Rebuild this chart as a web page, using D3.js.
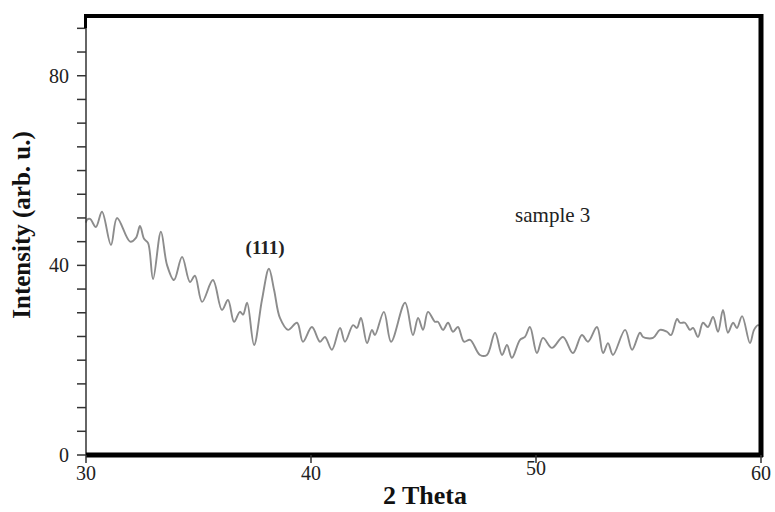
<!DOCTYPE html>
<html>
<head>
<meta charset="utf-8">
<script src="https://cdn.jsdelivr.net/npm/d3@7"></script>
<style>
  body { margin: 0; background: #fff; }
  text { font-family: "Liberation Serif", "Times New Roman", serif; }
</style>
</head>
<body>
<div class="chart"></div>
<script>
// 2 theta values (deg)
var theta = [30.0, 30.04, 30.18, 30.44, 30.71, 31.11, 31.38, 31.96, 32.22, 32.40, 32.58, 32.76, 32.98, 33.33, 33.60, 33.91,
  34.27, 34.62, 34.84, 35.16, 35.64, 36.04, 36.31, 36.58, 36.84, 36.98, 37.16, 37.47, 37.82, 38.13, 38.36, 38.62,
  38.98, 39.38, 39.64, 40.04, 40.40, 40.62, 40.93, 41.29, 41.51, 41.87, 42.04, 42.22, 42.49, 42.71, 42.84, 43.24,
  43.56, 44.18, 44.53, 44.76, 44.98, 45.20, 45.51, 45.64, 45.87, 46.09, 46.31, 46.53, 46.80, 47.07, 47.51, 47.82,
  48.18, 48.49, 48.71, 48.93, 49.29, 49.51, 49.73, 50.04, 50.31, 50.71, 51.20, 51.64, 52.04, 52.31, 52.71, 52.98,
  53.20, 53.42, 53.96, 54.27, 54.62, 54.76, 55.20, 55.51, 55.82, 56.00, 56.27, 56.40, 56.62, 56.84, 56.98, 57.20,
  57.42, 57.64, 57.87, 58.09, 58.31, 58.53, 58.76, 58.93, 59.16, 59.51, 59.69, 59.87, 60.0];
var intensity = [49.0, 49.6, 49.8, 48.1, 51.3, 44.3, 50.0, 45.0, 45.8, 48.3, 45.6, 44.7, 37.1, 47.1, 40.1, 36.9,
  41.8, 36.5, 37.8, 32.3, 36.9, 30.6, 32.7, 28.1, 30.2, 29.6, 32.1, 23.2, 32.7, 39.3, 34.8, 28.9,
  26.4, 27.9, 23.9, 27.0, 23.9, 24.9, 22.2, 26.8, 23.9, 27.4, 26.8, 28.9, 23.6, 26.4, 25.3, 30.2,
  23.9, 32.1, 25.3, 28.9, 26.4, 30.2, 28.1, 28.1, 26.4, 27.9, 26.0, 27.0, 23.9, 24.3, 21.1, 21.1,
  25.8, 21.1, 23.2, 20.5, 24.3, 24.9, 27.0, 21.5, 24.7, 22.6, 24.9, 21.5, 25.3, 23.9, 27.0, 21.5,
  23.6, 21.1, 26.4, 22.2, 25.8, 24.9, 24.7, 26.4, 26.0, 25.3, 28.7, 27.9, 27.9, 26.4, 26.8, 24.9,
  27.9, 27.0, 29.1, 26.0, 30.6, 25.8, 27.9, 26.8, 29.3, 23.6, 26.4, 27.4, 27.0];
var xTicks = [30, 40, 50, 60];
var yTicks = [0, 40, 80];
var yMinor = d3.range(0, 95, 5);

var data = theta.map(function(t, i) { return {x: t, y: intensity[i]}; });

var width = 775, height = 512;
var margin = { top: 16, right: 14, bottom: 57, left: 86 };
var plotW = width - margin.left - margin.right,
    plotH = height - margin.top - margin.bottom;

var x = d3.scaleLinear().domain([30, 60]).range([0, plotW]);
var y = d3.scaleLinear().domain([0, 92.6]).range([plotH, 0]);

var svg = d3.select(".chart").append("svg")
    .attr("width", width)
    .attr("height", height);

var g = svg.append("g")
    .attr("transform", "translate(" + margin.left + "," + margin.top + ")");

// data line
var line = d3.line()
    .x(function(d) { return x(d.x); })
    .y(function(d) { return y(d.y); })
    .curve(d3.curveCatmullRom.alpha(0.5));

g.append("path")
    .datum(data)
    .attr("fill", "none")
    .attr("stroke", "#8c8c8c")
    .attr("stroke-width", 1.9)
    .attr("d", line);

// left axis (thin) with ticks every 5
g.append("line")
    .attr("x1", 0).attr("x2", 0)
    .attr("y1", 0).attr("y2", plotH)
    .attr("stroke", "#333").attr("stroke-width", 1.5);

g.selectAll(".ytick")
    .data(yMinor)
    .enter().append("line")
    .attr("class", "ytick")
    .attr("x1", -9).attr("x2", 0)
    .attr("y1", function(d) { return y(d); })
    .attr("y2", function(d) { return y(d); })
    .attr("stroke", "#333").attr("stroke-width", 1.5);

g.selectAll(".ylabel")
    .data(yTicks)
    .enter().append("text")
    .attr("class", "ylabel")
    .attr("x", -17)
    .attr("y", function(d) { return y(d) + 7; })
    .attr("text-anchor", "end")
    .attr("font-size", 20)
    .attr("fill", "#222")
    .text(function(d) { return d; });

// thick frame: top, right, bottom + corner piece
g.append("line")
    .attr("x1", -2).attr("x2", plotW + 2)
    .attr("y1", 0).attr("y2", 0)
    .attr("stroke", "#000").attr("stroke-width", 4);
g.append("line")
    .attr("x1", -0.5).attr("x2", -0.5)
    .attr("y1", 0).attr("y2", 12)
    .attr("stroke", "#000").attr("stroke-width", 3);
g.append("line")
    .attr("x1", plotW).attr("x2", plotW)
    .attr("y1", -2).attr("y2", plotH + 2)
    .attr("stroke", "#000").attr("stroke-width", 5);
g.append("line")
    .attr("x1", 0).attr("x2", plotW + 2)
    .attr("y1", plotH).attr("y2", plotH)
    .attr("stroke", "#000").attr("stroke-width", 5);

// x ticks
g.selectAll(".xtick")
    .data(xTicks)
    .enter().append("line")
    .attr("class", "xtick")
    .attr("x1", function(d) { return x(d); })
    .attr("x2", function(d) { return x(d); })
    .attr("y1", plotH).attr("y2", plotH + 8)
    .attr("stroke", "#333").attr("stroke-width", 1.5);

g.selectAll(".xlabel")
    .data(xTicks)
    .enter().append("text")
    .attr("class", "xlabel")
    .attr("x", function(d) { return x(d); })
    .attr("y", function(d) { return plotH + (d === 50 ? 20 : 25); })
    .attr("text-anchor", "middle")
    .attr("font-size", 20)
    .attr("fill", "#222")
    .text(function(d) { return d; });

// annotations
g.append("text")
    .attr("x", x(37.96))
    .attr("y", y(42.4))
    .attr("text-anchor", "middle")
    .attr("font-size", 19)
    .attr("font-weight", "bold")
    .attr("fill", "#222")
    .text("(111)");

g.append("text")
    .attr("x", x(49.07))
    .attr("y", y(49.2))
    .attr("font-size", 21)
    .attr("fill", "#222")
    .text("sample 3");

// axis titles
svg.append("text")
    .attr("x", 425)
    .attr("y", 504)
    .attr("text-anchor", "middle")
    .attr("font-size", 26)
    .attr("font-weight", "bold")
    .attr("fill", "#111")
    .text("2 Theta");

svg.append("text")
    .attr("transform", "translate(30,225) rotate(-90)")
    .attr("text-anchor", "middle")
    .attr("font-size", 25)
    .attr("font-weight", "bold")
    .attr("fill", "#111")
    .text("Intensity (arb. u.)");
</script>
</body>
</html>
